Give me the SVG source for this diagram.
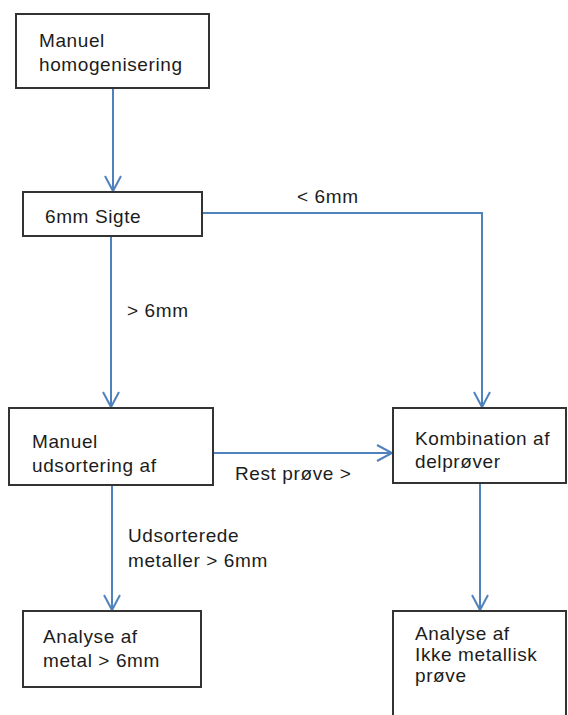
<svg xmlns="http://www.w3.org/2000/svg" width="568" height="715" viewBox="0 0 568 715">
<style>
.box{fill:#ffffff;stroke:#333333;stroke-width:2}
.t{font-family:"Liberation Sans",Arial,sans-serif;font-size:19px;letter-spacing:0.6px;fill:#1c1c1c}
.c{fill:none;stroke:#4f81bd;stroke-width:2}
</style>
<defs>
<marker id="ah" markerUnits="userSpaceOnUse" markerWidth="20" markerHeight="20" refX="16" refY="9" orient="auto">
<polyline points="1,1 16,9 1,17" fill="none" stroke="#4f81bd" stroke-width="2"/>
</marker>
</defs>
<rect width="568" height="715" fill="#ffffff"/>
<g id="connectors">
<line class="c" x1="113" y1="89" x2="113" y2="191" marker-end="url(#ah)"/>
<polyline class="c" points="203,213 482,213 482,407" marker-end="url(#ah)"/>
<line class="c" x1="111" y1="237" x2="111" y2="407" marker-end="url(#ah)"/>
<line class="c" x1="214" y1="453" x2="392" y2="453" marker-end="url(#ah)"/>
<line class="c" x1="112" y1="486" x2="112" y2="610" marker-end="url(#ah)"/>
<line class="c" x1="480" y1="484" x2="480" y2="610" marker-end="url(#ah)"/>
<text class="t" x="297" y="203">&lt; 6mm</text>
<text class="t" x="127" y="317">&gt; 6mm</text>
<text class="t" x="235" y="480">Rest prøve &gt;</text>
<text class="t" x="128" y="542">Udsorterede</text>
<text class="t" x="128" y="567">metaller &gt; 6mm</text>
</g>
<g id="node1">
<rect class="box" x="16" y="14" width="193" height="74"/>
<text class="t" x="39" y="47">Manuel</text>
<text class="t" x="39" y="71">homogenisering</text>
</g>
<g id="node2">
<rect class="box" x="23" y="192" width="179" height="44"/>
<text class="t" x="45" y="223">6mm Sigte</text>
</g>
<g id="node3">
<rect class="box" x="9" y="408" width="204" height="77"/>
<text class="t" x="32" y="448">Manuel</text>
<text class="t" x="32" y="472">udsortering af</text>
</g>
<g id="node4">
<rect class="box" x="393" y="408" width="173" height="75"/>
<text class="t" x="415" y="445">Kombination af</text>
<text class="t" x="415" y="468">delprøver</text>
</g>
<g id="node5">
<rect class="box" x="23" y="611" width="178" height="76"/>
<text class="t" x="43" y="643">Analyse af</text>
<text class="t" x="43" y="667">metal &gt; 6mm</text>
</g>
<g id="node6">
<rect class="box" x="393" y="611" width="173" height="115"/>
<text class="t" x="415" y="640">Analyse af</text>
<text class="t" x="415" y="661">Ikke metallisk</text>
<text class="t" x="415" y="682">prøve</text>
</g>
</svg>
